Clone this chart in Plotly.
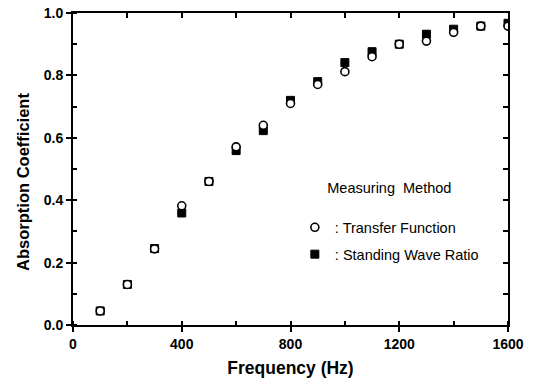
import plotly.graph_objects as go

freq = [100, 200, 300, 400, 500, 600, 700, 800, 900, 1000, 1100, 1200, 1300, 1400, 1500, 1600]
transfer_function = [0.045, 0.13, 0.244, 0.382, 0.46, 0.571, 0.64, 0.71, 0.771, 0.812, 0.86, 0.90, 0.91, 0.938, 0.958, 0.958]
standing_wave = [0.045, 0.13, 0.245, 0.359, 0.46, 0.559, 0.623, 0.72, 0.78, 0.841, 0.876, 0.90, 0.932, 0.948, 0.958, 0.967]

x_ticks = [0, 400, 800, 1200, 1600]
y_ticks = [0.0, 0.2, 0.4, 0.6, 0.8, 1.0]

font = "Liberation Sans, Arial, sans-serif"

fig = go.Figure()
fig.add_trace(go.Scatter(
    x=freq, y=standing_wave, mode="markers", name=": Standing Wave Ratio",
    legendgroup="swr", legendrank=2,
    marker=dict(symbol="square", size=8, color="black", line=dict(color="black", width=1)),
))
fig.add_trace(go.Scatter(
    x=freq, y=transfer_function, mode="markers", name=": Transfer Function",
    legendgroup="tf", legendrank=1,
    marker=dict(symbol="circle", size=8, color="white", line=dict(color="black", width=1.6)),
))
fig.add_trace(go.Scatter(x=[], y=[], xaxis="x2", yaxis="y2", showlegend=False))

fig.update_layout(
    width=535, height=384,
    margin=dict(l=73, r=27, t=13, b=59),
    paper_bgcolor="white", plot_bgcolor="white",
    font=dict(family=font, size=13, color="black"),
    showlegend=True,
    legend=dict(
        x=0.51, y=0.485, xanchor="left", yanchor="top",
        bgcolor="rgba(0,0,0,0)",
        font=dict(family=font, size=14.5, color="black"),
        title=dict(text="Measuring  Method<br>", side="top center",
                   font=dict(family=font, size=14.5, color="black")),
        itemsizing="trace", itemwidth=30, tracegroupgap=5,
    ),
    xaxis=dict(
        range=[0, 1600], tickvals=x_ticks, ticktext=[f"<b>{v}</b>" for v in x_ticks],
        ticks="outside", ticklen=5, tickwidth=2, tickcolor="black",
        showline=True, linewidth=2, linecolor="black", showgrid=False, zeroline=False,
        minor=dict(dtick=200, ticks="inside", ticklen=4, tickwidth=1.5, tickcolor="black"),
        title=dict(text="<b>Frequency (Hz)</b>", font=dict(family=font, size=17.5), standoff=11),
        tickfont=dict(family=font, size=14), automargin=False,
    ),
    yaxis=dict(
        range=[0, 1.0], tickvals=y_ticks, ticktext=[f"<b>{v:.1f}</b>" for v in y_ticks],
        ticks="outside", ticklen=5, tickwidth=2, tickcolor="black",
        showline=True, linewidth=2, linecolor="black", showgrid=False, zeroline=False,
        minor=dict(dtick=0.1, ticks="inside", ticklen=4, tickwidth=1.5, tickcolor="black"),
        tickfont=dict(family=font, size=14), automargin=False,
    ),
    xaxis2=dict(
        overlaying="x", side="top", range=[0, 1600], dtick=200,
        ticks="inside", ticklen=5, tickwidth=1.5, tickcolor="black",
        showticklabels=False, showline=True, linewidth=2, linecolor="black",
        showgrid=False, zeroline=False, automargin=False,
    ),
    yaxis2=dict(
        overlaying="y", side="right", range=[0, 1.0], dtick=0.1,
        ticks="inside", ticklen=5, tickwidth=1.5, tickcolor="black",
        showticklabels=False, showline=True, linewidth=2, linecolor="black",
        showgrid=False, zeroline=False, automargin=False,
    ),
    annotations=[dict(
        text="<b>Absorption Coefficient</b>", textangle=-90,
        xref="paper", yref="paper", x=-0.114, y=0.46,
        xanchor="center", yanchor="middle", showarrow=False,
        font=dict(family=font, size=16.5, color="black"),
    )],
)

fig.write_html("out.html")
